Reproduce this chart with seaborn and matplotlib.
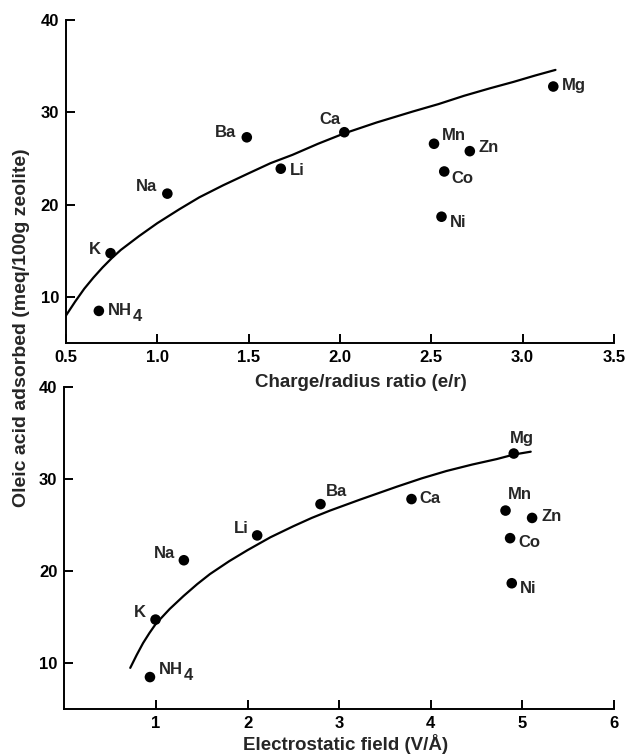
import matplotlib
matplotlib.use("Agg")
import matplotlib.pyplot as plt
import seaborn as sns
import pandas as pd

# ---------------- data ----------------
ions = ["NH4", "K", "Na", "Ba", "Li", "Ca", "Mn", "Zn", "Co", "Ni", "Mg"]
oleic_adsorbed = [8.5, 14.75, 21.2, 27.3, 23.9, 27.85, 26.6, 25.8, 23.6, 18.7, 32.8]
charge_radius = [0.68, 0.744, 1.055, 1.49, 1.676, 2.024, 2.515, 2.711, 2.571, 2.556, 3.168]
electrostatic_field = [0.935, 0.996, 1.305, 2.796, 2.105, 3.789, 4.815, 5.105, 4.865, 4.883, 4.905]

fit_top_x = [0.50, 0.55, 0.60, 0.65, 0.70, 0.75, 0.80, 0.90, 1.00, 1.12, 1.23, 1.36,
             1.50, 1.62, 1.74, 1.88, 2.02, 2.20, 2.40, 2.54, 2.68, 2.82, 2.95, 3.07, 3.18]
fit_top_y = [8.0, 9.5, 10.9, 12.1, 13.2, 14.2, 15.1, 16.6, 18.0, 19.5, 20.8, 22.1,
             23.4, 24.5, 25.4, 26.6, 27.7, 28.9, 30.1, 30.9, 31.8, 32.6, 33.3, 34.0, 34.6]
fit_bot_x = [0.72, 0.79, 0.86, 0.93, 1.00, 1.15, 1.30, 1.45, 1.59, 1.80, 2.00, 2.25,
             2.50, 2.70, 2.90, 3.23, 3.63, 3.90, 4.17, 4.45, 4.72, 4.91, 5.09]
fit_bot_y = [9.5, 10.9, 12.2, 13.3, 14.3, 15.9, 17.3, 18.6, 19.7, 21.1, 22.3, 23.7,
             24.9, 25.8, 26.6, 27.8, 29.2, 30.1, 30.9, 31.6, 32.2, 32.7, 33.0]

top_xticks = [0.5, 1.0, 1.5, 2.0, 2.5, 3.0, 3.5]
top_xticklabels = ["0.5", "1.0", "1.5", "2.0", "2.5", "3.0", "3.5"]
bot_xticks = [1, 2, 3, 4, 5, 6]
bot_xticklabels = ["1", "2", "3", "4", "5", "6"]
yticks = [10, 20, 30, 40]
yticklabels = ["10", "20", "30", "40"]

xlabel_top = "Charge/radius ratio (e/r)"
xlabel_bot = "Electrostatic field (V/Å)"
ylabel = "Oleic acid adsorbed (meq/100g zeolite)"

# label offsets in pixels (dx, dy, ha) -- style only
PX = 0.72
top_off = {"K": (-10, 4, "right"), "Na": (-10.5, 7, "right"), "Ba": (-11, 5, "right"),
           "Li": (9, -2, "left"), "Ca": (-4, 13, "right"), "Mg": (9, 1, "left"),
           "Mn": (8, 8, "left"), "Zn": (9, 4, "left"), "Co": (7, -7, "left"),
           "Ni": (8, -6, "left")}
bot_off = {"K": (-10, 7, "right"), "Na": (-9, 7, "right"), "Li": (-9, 7, "right"),
           "Ba": (5, 13, "left"), "Ca": (8, 1, "left"), "Mg": (8, 15, "center"),
           "Mn": (14, 16, "center"), "Zn": (9, 1, "left"), "Co": (8, -4, "left"),
           "Ni": (8, -5, "left")}
nh4_off_top = (9, -4.5)   # baseline offset of "NH"
nh4_off_bot = (9, 3)

sns.set_theme(style="ticks")
plt.rcParams["font.family"] = ["Liberation Sans", "DejaVu Sans"]
plt.rcParams["font.weight"] = "bold"
plt.rcParams["axes.labelweight"] = "bold"

df = pd.DataFrame({"ion": ions, "oleic": oleic_adsorbed,
                   "cr": charge_radius, "ef": electrostatic_field})
fit_top = pd.DataFrame({"x": fit_top_x, "y": fit_top_y})
fit_bot = pd.DataFrame({"x": fit_bot_x, "y": fit_bot_y})

fig = plt.figure(figsize=(6.32, 7.56), dpi=100)
ax1 = fig.add_axes([0.1044, 0.546, 0.867, 0.4275])
ax2 = fig.add_axes([0.1017, 0.0618, 0.870, 0.4259])


def draw(ax, fit, xcol, offs, nh4_off, xlim, xticks, xticklabels, xlabel, lab_xy):
    ax.patch.set_alpha(0)
    sns.lineplot(data=fit, x="x", y="y", ax=ax, color="black", lw=1.6,
                 sort=False, estimator=None, zorder=2)
    sns.scatterplot(data=df, x=xcol, y="oleic", ax=ax, color="black", s=58,
                    edgecolor="none", zorder=3, legend=False)
    for ion, xv, yv in zip(df["ion"], df[xcol], df["oleic"]):
        if ion == "NH4":
            t = ax.annotate("NH", (xv, yv), xytext=(nh4_off[0] * PX, nh4_off[1] * PX),
                            textcoords="offset points", ha="left", va="baseline",
                            fontsize=12, fontweight="bold")
            ax.annotate("4", xy=(1, 0), xycoords=t, xytext=(0.8, 1.2),
                        textcoords="offset points", ha="left", va="center",
                        fontsize=12, fontweight="bold")
        else:
            dx, dy, ha = offs[ion]
            ax.annotate(ion, (xv, yv), xytext=(dx * PX, dy * PX),
                        textcoords="offset points", ha=ha, va="center",
                        fontsize=12, fontweight="bold")
    ax.set_xlim(*xlim)
    ax.set_ylim(5, 40)
    ax.set_xticks(xticks)
    ax.set_xticklabels(xticklabels)
    ax.set_yticks(yticks)
    ax.set_yticklabels(yticklabels)
    ax.set_xlabel(xlabel, fontsize=13.5, fontweight="bold")
    ax.xaxis.label.set_va("center")
    ax.xaxis.set_label_coords(*lab_xy)
    ax.set_ylabel("")
    sns.despine(ax=ax)
    for s in ["left", "bottom"]:
        ax.spines[s].set_linewidth(1.4)
        ax.spines[s].set_color("black")
    ax.tick_params(direction="in", length=6.5, width=1.4, labelsize=12, pad=5,
                   colors="black")
    for lbl in ax.get_xticklabels() + ax.get_yticklabels():
        lbl.set_fontweight("bold")


draw(ax1, fit_top, "cr", top_off, nh4_off_top, (0.5, 3.5), top_xticks,
     top_xticklabels, xlabel_top, (0.538, -0.123))
draw(ax2, fit_bot, "ef", bot_off, nh4_off_bot, (0, 6), bot_xticks,
     bot_xticklabels, xlabel_bot, (0.512, -0.108))
ax1.set_zorder(2)

fig.text(0.034, 0.566, ylabel, rotation=90, ha="center", va="center",
         fontsize=14, fontweight="bold")

fig.savefig("out.png", dpi=100, facecolor="white")
